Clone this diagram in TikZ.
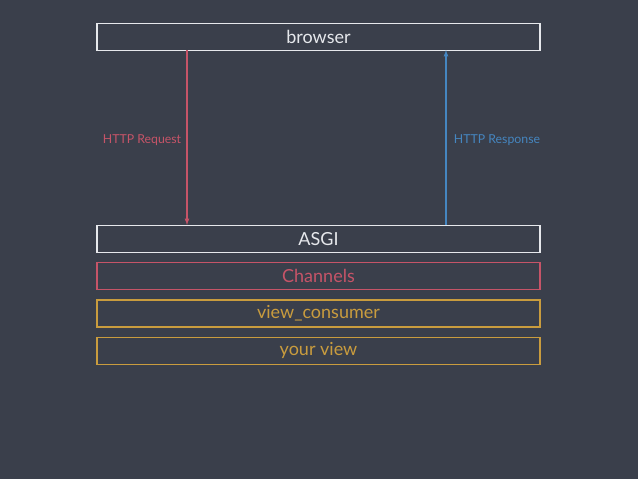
\documentclass[tikz,border=0pt]{standalone}
\usepackage{fontspec}
\setmainfont{Lato}
\usetikzlibrary{positioning}
\definecolor{bgcol}{HTML}{3A3F4B}
\definecolor{reqred}{HTML}{C65468}
\definecolor{resblue}{HTML}{4586C0}
\definecolor{layergold}{HTML}{C99C3E}
\definecolor{boxwhite}{HTML}{E6E8EC}
\tikzstyle{layer}=[draw, shape=rectangle, minimum width=443pt, minimum height=27pt, inner sep=0pt, line width=1.2pt, font=\fontsize{18}{18}\selectfont]
\tikzstyle{lbl}=[inner sep=0pt, font=\fontsize{12.3}{12.3}\selectfont]
\tikzset{>=latex}

\begin{document}
\begin{tikzpicture}[x=1pt, y=-1pt]
\fill[bgcol] (0,0) rectangle (638,479);
\useasboundingbox (0,0) rectangle (638,479);
\node[layer, boxwhite, text=boxwhite] (browser) at (318.5,37) {browser};
\node[layer, boxwhite, text=boxwhite] (asgi) at (318.5,239) {ASGI};
\node[layer, reqred, text=reqred, below=9pt of asgi] (channels) {Channels};
\node[layer, layergold, text=layergold, below=9pt of channels] (consumer) {view\_consumer};
\node[layer, layergold, text=layergold, below=9pt of consumer] (yourview) {your view};
%
\coordinate (reqtop) at (187,50);
\coordinate (reqbot) at (187,225);
\coordinate (restop) at (446,50);
\coordinate (resbot) at (446,225);
\draw[->, reqred, line width=1.2pt] (reqtop) -- (reqbot);
\draw[->, resblue, line width=1.2pt] (resbot) -- (restop);
\node[lbl, text=reqred] (req) at (142,140) {HTTP Request};
\node[lbl, text=resblue] (res) at (497,140) {HTTP Response};
\end{tikzpicture}
\end{document}
